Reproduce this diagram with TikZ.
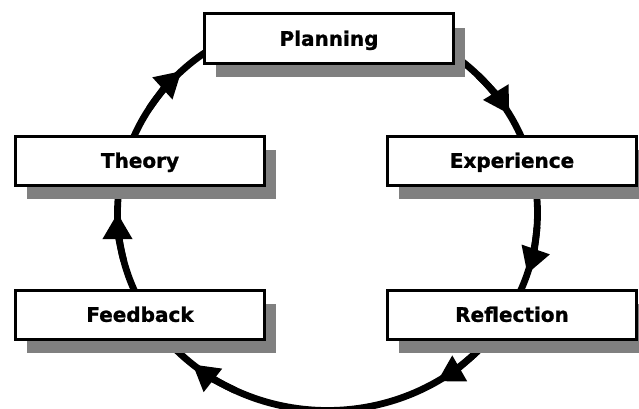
\documentclass[tikz,border=0pt]{standalone}
\usepackage{fontspec}
\setmainfont{DejaVu Sans}[BoldFeatures={FakeBold=1.2}]
\usetikzlibrary{arrows.meta,shadows,backgrounds}
\definecolor{shadowgray}{RGB}{128,128,128}
\begin{document}
\begin{tikzpicture}[x=1pt,y=1pt,
  stage/.style={draw=black, line width=3pt, fill=white,
    minimum width=249pt, minimum height=49pt, inner sep=0pt,
    font=\fontsize{20pt}{24pt}\selectfont\bfseries,
    text height=14.6pt, text depth=0pt,
    drop shadow={shadow xshift=11pt, shadow yshift=-14pt,
                 fill=shadowgray, opacity=1}},
  loopline/.style={draw=black, line width=6.8pt},
  headed/.style={loopline, -{Triangle[length=26pt,width=28pt]}}
]
\useasboundingbox (0,0) rectangle (639,408);

% the five stages of the cycle
\node[stage] (plan)   at (329,369.5) {Planning};
\node[stage] (theory) at (140,247.5) {Theory};
\node[stage] (exper)  at (512,247.5) {Experience};
\node[stage] (feed)   at (140,93.5)  {Feedback};
\node[stage] (refl)   at (512,93.5)  {Reflection};

% centre of the elliptical ring that links them
\coordinate (hub) at (327.5,195);

\begin{scope}[on background layer]
  % ring segments, each starting and ending under a box
  \foreach \a/\b in {165/115, 60/15, 10/-30, -35/-145, 205/170}
    \draw[loopline] (hub) ++(\a:210pt and 197.5pt)
      arc[start angle=\a, end angle=\b, x radius=210pt, y radius=197.5pt];
  % arrowheads along the ring, clockwise
  \foreach \a in {134, 30, -18, -58.5, -130, 180}
    \draw[headed] (hub) ++(\a+14:210pt and 197.5pt)
      arc[start angle=\a+14, end angle=\a, x radius=210pt, y radius=197.5pt];
\end{scope}
\end{tikzpicture}
\end{document}
